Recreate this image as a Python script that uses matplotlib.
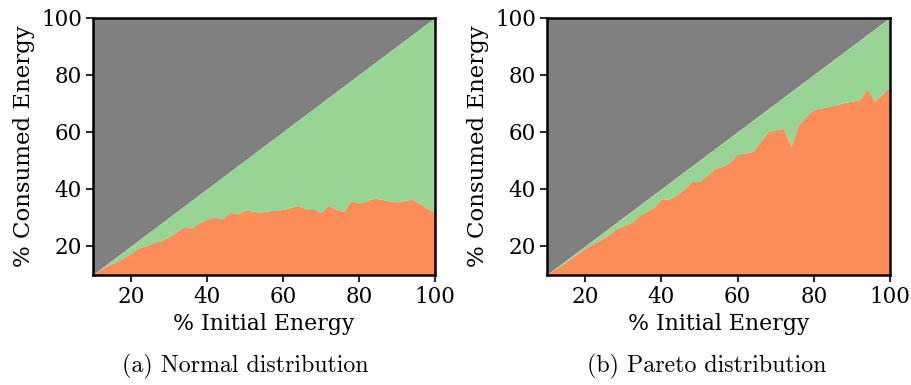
import matplotlib
matplotlib.use("Agg")
import matplotlib.pyplot as plt
import numpy as np

initial = [10, 12, 14, 16, 18, 20, 22, 24, 26, 28, 30, 32, 34, 36, 38, 40, 42, 44, 46, 48,
           50, 52, 54, 56, 58, 60, 62, 64, 66, 68, 70, 72, 74, 76, 78, 80, 82, 84, 86, 88,
           90, 92, 94, 96, 98, 100]
normal_consumed = [10, 11.8, 13.3, 14.3, 15.8, 17.5, 19.3, 20.1, 21.2, 21.9, 23.3, 25, 26.8, 26.3,
                   28.3, 29.3, 30.1, 29.5, 31.8, 31.2, 32.6, 32.2, 31.8, 32.3, 32.5, 32.8, 33.5,
                   34.2, 33, 33.1, 31.7, 34.3, 32.8, 32.1, 35.9, 35, 35.8, 36.8, 36.3, 35.8, 35.4,
                   35.9, 36.4, 34.8, 33.2, 31.6]
pareto_consumed = [10, 11.8, 13.5, 15.4, 17.3, 19.2, 20.6, 22.2, 23.8, 26, 27, 28.2, 30.5, 32,
                   33.5, 36.5, 36.3, 38, 39.8, 42.7, 42.6, 44.8, 47.1, 47.9, 49.4, 52.2, 52.6,
                   53.1, 56.6, 60.1, 60.7, 61.2, 54.8, 62.5, 65.5, 67.8, 68.3, 68.9, 69.5, 70.2,
                   70.7, 71.2, 75, 70.7, 73.2, 75.8]
captions = ["(a) Normal distribution", "(b) Pareto distribution"]
xlabel = "% Initial Energy"
ylabel = "% Consumed Energy"
ticks = [20, 40, 60, 80, 100]

GRAY = "#808080"
GREEN = "#98d594"
ORANGE = "#fc8d59"

fig = plt.figure(figsize=(9.11, 3.85), dpi=100)
W, H = 911, 385
boxes = [(93, 435), (547, 890)]
caption_center = [245, 707]
top, bottom = 17.5, 274.5
x = np.array(initial, dtype=float)
for (l, r), cons, cap, cc in zip(boxes, [normal_consumed, pareto_consumed], captions, caption_center):
    ax = fig.add_axes([l / W, 1 - bottom / H, (r - l) / W, (bottom - top) / H])
    c = np.array(cons, dtype=float)
    ax.fill_between(x, x, 100, color=GRAY, lw=0)
    ax.fill_between(x, c, x, color=GREEN, lw=0)
    ax.fill_between(x, 10, c, color=ORANGE, lw=0)
    ax.set_xlim(10, 100)
    ax.set_ylim(10, 100)
    ax.set_xticks(ticks)
    ax.set_yticks(ticks)
    for s in ax.spines.values():
        s.set_linewidth(1.8)
    ax.tick_params(labelsize=15.5, length=5, width=1.2, pad=3)
    for lab in ax.get_xticklabels() + ax.get_yticklabels():
        lab.set_family("DejaVu Serif")
    ax.set_xlabel(xlabel, family="DejaVu Serif", fontsize=15.8, labelpad=4)
    ax.set_ylabel(ylabel, family="DejaVu Serif", fontsize=16.5, labelpad=4)
    fig.text(cc / W, 1 - 366 / H, cap, family="cmr10", fontsize=17.2,
             ha="center", va="center")

fig.savefig("out.png", dpi=100)
